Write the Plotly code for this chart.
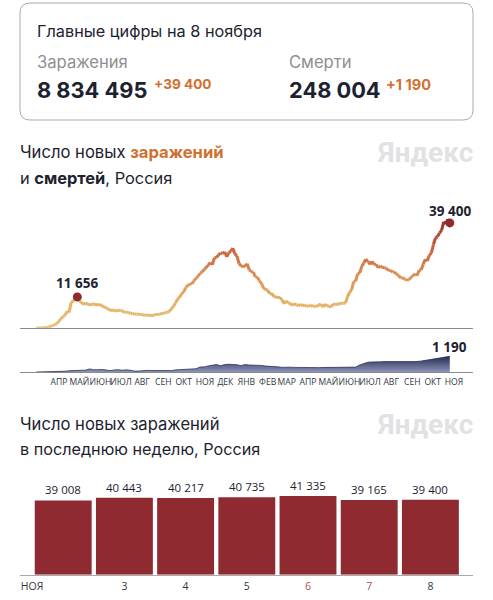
import pandas as pd
import plotly.graph_objects as go
from plotly.colors import sample_colorscale

W, H = 493, 600

# new cases, every 3 days from 12 March 2020
cases = [
    6, 10, 30, 60, 70, 180, 300,
    770, 1000, 1175, 1670, 2558, 3448, 4268, 4774, 6361, 5841,
    9623, 10102, 10699, 11656, 9974, 9709, 8764, 9434, 8915, 8572,
    9035, 8831, 8984, 8404, 8987, 8248, 7972, 7600, 7113, 6719,
    6556, 6718, 6368, 6635, 6537, 6428, 5940, 5862, 5871, 5475, 5482,
    5159, 5241, 5118, 5102, 4969, 4748, 4870, 4744, 4676, 4729,
    4952, 5195, 5099, 5363, 5509, 5670, 5905, 6215, 7212, 8135,
    9412, 10888, 11493, 12846, 13592, 15150, 15982, 16521, 16550, 17717,
    18665, 19404, 20498, 20977, 21983, 22702, 23610, 24581, 23675, 26338,
    26402, 27403, 28134, 27927, 28585, 26689, 28209, 28776, 29935, 27787, 27039,
    24150, 23351, 22851, 23315, 24092, 21734, 21127, 20921, 19138, 19032,
    17648, 16714, 14861, 14494, 14185, 12828, 12953, 11823, 11534,
    11571, 11385, 10595, 9079, 10188, 9393, 9299, 8457, 9128, 8711, 8328,
    8885, 8328, 8702, 8162, 8173, 8632, 8053, 8280, 8038, 8697,
    8951, 7770, 8962, 8217, 8232, 7857, 8947, 8951, 8823, 9100,
    9327, 9252, 9315, 11699, 13397, 14185, 17378, 17594, 20393, 20616,
    23218, 24353, 25766, 25033, 23827, 25018, 23770, 23947, 22589, 23270,
    22804, 22589, 22420, 21571, 21624, 20958, 20992, 20181, 19700, 18780, 18780,
    18400, 17856, 18178, 18891, 19594, 20329, 19641, 21650, 21790, 23888,
    25769, 25133, 27246, 28190, 31299, 33740, 34325, 35660, 36582, 39849,
    39008, 40735, 39400,
]

# new deaths, every 6 days from 12 March 2020
deaths = [
    0, 1, 1, 3,
    6, 12, 32, 57, 96,
    98, 94, 94, 139, 232,
    169, 171, 193, 153, 104,
    154, 174, 129, 165, 129,
    70, 70, 114, 121, 113,
    117, 121, 90, 85, 108,
    160, 169, 191, 239, 229,
    245, 378, 387, 461, 507,
    569, 470, 560, 585, 570,
    550, 480, 566, 527, 527, 490,
    500, 450, 440, 390,
    390, 350, 380, 365, 350, 340,
    350, 340, 330, 340, 330,
    340, 340, 330, 340, 320,
    345, 340, 345, 370, 540,
    650, 740, 760, 790, 770,
    790, 800, 790, 795, 790,
    790, 790, 770, 795, 830,
    880, 950, 1000, 1050, 1100,
    1160, 1190,
]

month_labels = ["АПР", "МАЙ", "ИЮН", "ИЮЛ", "АВГ", "СЕН", "ОКТ", "НОЯ", "ДЕК", "ЯНВ",
                "ФЕВ", "МАР", "АПР", "МАЙ", "ИЮН", "ИЮЛ", "АВГ", "СЕН", "ОКТ", "НОЯ"]

week_days = [2, 3, 4, 5, 6, 7, 8]
week_values = [39008, 40443, 40217, 40735, 41335, 39165, 39400]

case_dates = pd.date_range("2020-03-12", periods=len(cases), freq="3D")
death_dates = pd.date_range("2020-03-12", periods=len(deaths), freq="6D")
month_ticks = pd.date_range("2020-04-01", periods=len(month_labels), freq="MS") + pd.Timedelta(days=13)

DARK = "#1d2230"
RED = "#8f2a30"
ORANGE = "#d2702f"
heat = [[0, "#e6c070"], [0.25, "#e3b066"], [0.5, "#da8a50"], [0.72, "#c9603c"], [1, "#8f2a30"]]


def fmt(v):
    return f"{v:,}".replace(",", " ")


def px(x):
    return x / W


def py(y):
    return 1 - y / H


fig = go.Figure()

# one short trace per step so the line can change colour along its height
for i in range(len(cases) - 1):
    mid = (cases[i] + cases[i + 1]) / 2
    fig.add_trace(go.Scatter(
        x=case_dates[i:i + 2], y=cases[i:i + 2], mode="lines",
        line=dict(color=sample_colorscale(heat, mid / 41335)[0], width=3),
        xaxis="x", yaxis="y",
    ))

peak = cases.index(max(cases[:40]))
fig.add_trace(go.Scatter(
    x=[case_dates[peak], case_dates[-1]], y=[cases[peak], cases[-1]],
    mode="markers", marker=dict(color=RED, size=9), xaxis="x", yaxis="y",
))

fig.add_trace(go.Scatter(
    x=death_dates, y=deaths, mode="lines", line=dict(color="#2b3357", width=0.8),
    fill="tozeroy",
    fillgradient=dict(type="vertical", colorscale=[[0, "#8b94b8"], [1, "#232b50"]]),
    xaxis="x2", yaxis="y2",
))

fig.add_trace(go.Bar(
    x=week_days, y=week_values, marker=dict(color=RED, line_width=0),
    width=0.93, xaxis="x3", yaxis="y3",
))

annotations = []


def label(x, y, text, size, color=DARK, anchor="left", font="Inter"):
    annotations.append(dict(
        x=px(x), y=py(y), xref="paper", yref="paper", text=text, showarrow=False,
        xanchor=anchor, yanchor="middle", xshift=-2 if anchor == "left" else 2,
        font=dict(family=font, size=size, color=color),
    ))


# summary card
label(37, 31, "Главные цифры на 8 ноября", 16.3)
label(37, 62, "Заражения", 16.6, "#8c8f94")
label(289, 62, "Смерти", 16.6, "#8c8f94")
label(37, 90, "<b>8 834 495</b>", 21.8)
label(289, 90, "<b>248 004</b>", 21.8)
label(154, 84, "<b>+39 400</b>", 13.6, ORANGE)
label(386, 84, "<b>+1 190</b>", 14.5, ORANGE)

# headings
label(20, 152, f'Число новых <b><span style="color:{ORANGE}">заражений</span></b>', 16.6)
label(20, 178, "и <b>смертей</b>, Россия", 16.4)
label(20, 424, "Число новых заражений", 16.6)
label(20, 449, "в последнюю неделю, Россия", 16.2)
label(473, 152, "<b>Яндекс</b>", 28, "#e1e2e4", "right", "Roboto")
label(473, 424, "<b>Яндекс</b>", 28, "#e1e2e4", "right", "Roboto")

# value labels on the line and area charts
annotations.append(dict(x=case_dates[peak], y=cases[peak], xref="x", yref="y", text=f"<b>{fmt(cases[peak])}</b>",
                        showarrow=False, yshift=14, font=dict(family="Open Sans", size=13.5, color=DARK)))
annotations.append(dict(x=case_dates[-1], y=cases[-1], xref="x", yref="y", text=f"<b>{fmt(cases[-1])}</b>",
                        showarrow=False, yshift=12, font=dict(family="Open Sans", size=13.5, color=DARK)))
annotations.append(dict(x=death_dates[-1], y=deaths[-1], xref="x2", yref="y2", text=f"<b>{fmt(deaths[-1])}</b>",
                        showarrow=False, yshift=9, font=dict(family="Open Sans", size=13.5, color=DARK)))

for day, value in zip(week_days, week_values):
    annotations.append(dict(x=day, y=value, xref="x3", yref="y3", text=fmt(value), showarrow=False,
                            yanchor="bottom", yshift=1, font=dict(family="Open Sans", size=11.5, color=DARK)))

weekend = '<span style="color:#a0574f">%s</span>'

fig.update_layout(
    width=W, height=H, margin=dict(l=0, r=0, t=0, b=0),
    paper_bgcolor="white", plot_bgcolor="white", showlegend=False, hovermode=False,
    annotations=annotations,
    shapes=[dict(
        type="path", xref="paper", yref="paper",
        path=(f"M {px(30)} {py(3)} L {px(463)} {py(3)} Q {px(473)} {py(3)} {px(473)} {py(13)} "
              f"L {px(473)} {py(110)} Q {px(473)} {py(120)} {px(463)} {py(120)} "
              f"L {px(30)} {py(120)} Q {px(20)} {py(120)} {px(20)} {py(110)} "
              f"L {px(20)} {py(13)} Q {px(20)} {py(3)} {px(30)} {py(3)} Z"),
        line=dict(color="#a9abad", width=1),
    )],
    xaxis=dict(domain=[px(20), px(473)], range=["2020-02-17", "2021-12-12"], anchor="y",
               showgrid=False, zeroline=False, showline=True, linecolor="#8c8c8c", linewidth=1,
               showticklabels=False, ticks=""),
    yaxis=dict(domain=[py(328), py(200)], range=[0, 48000], visible=False),
    xaxis2=dict(domain=[px(20), px(473)], range=["2020-02-17", "2021-12-12"], anchor="y2",
                showgrid=False, zeroline=False, showline=True, linecolor="#8c8c8c", linewidth=1,
                tickmode="array", tickvals=list(month_ticks), ticktext=month_labels, ticks="",
                ticklabelstandoff=2, tickangle=0,
                tickfont=dict(family="Open Sans", size=8.6, color="#33363d")),
    yaxis2=dict(domain=[py(372), py(340)], range=[0, 2426], visible=False),
    xaxis3=dict(domain=[px(20), px(473)], range=[1.294, 8.696], anchor="y3",
                showgrid=False, zeroline=False, showline=True, linecolor="#a9a9b3", linewidth=1,
                tickmode="array", tickvals=[1.49, 3, 4, 5, 6, 7, 8],
                ticktext=["НОЯ", "3", "4", "5", weekend % "6", weekend % "7", "8"], ticks="",
                ticklabelstandoff=2,
                tickfont=dict(family="Open Sans", size=10.5, color="#33363d")),
    yaxis3=dict(domain=[py(574.7), py(480)], range=[0, 49730], visible=False),
)

fig.write_html("out.html", config={"displayModeBar": False},
               post_script="document.body.style.margin='0';document.documentElement.style.overflow='hidden';")
